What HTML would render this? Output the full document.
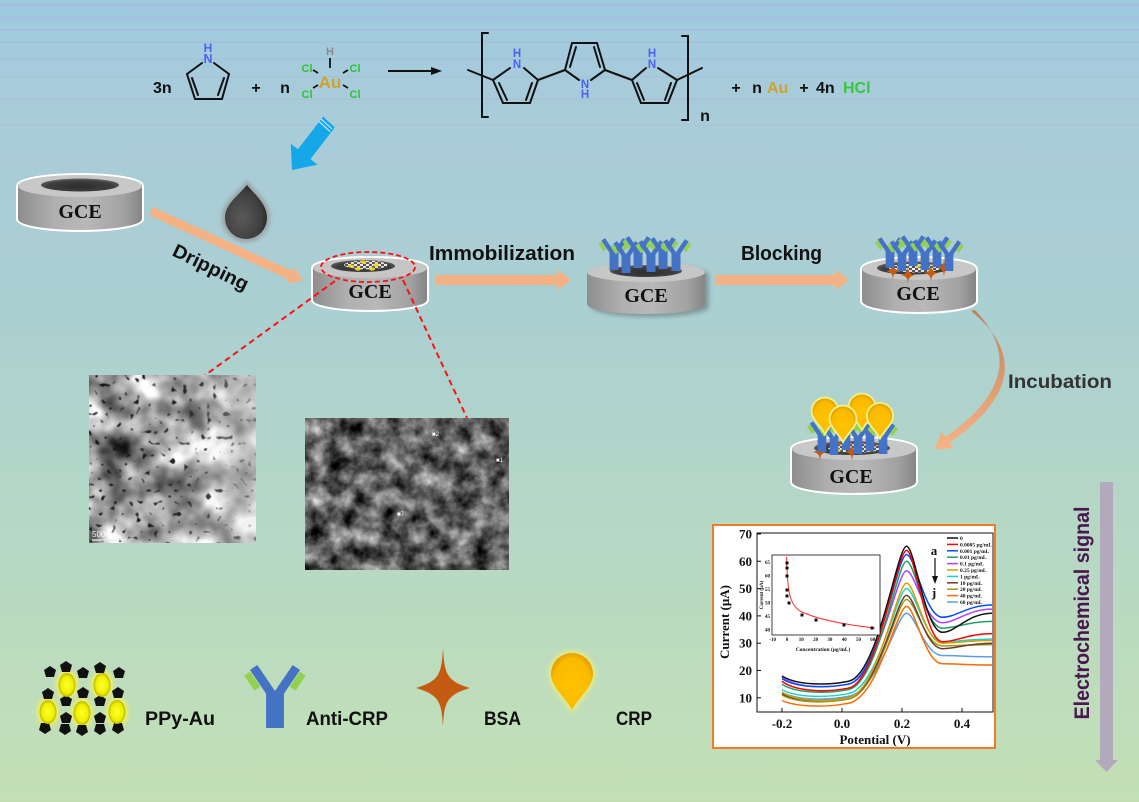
<!DOCTYPE html>
<html><head><meta charset="utf-8"><style>html,body{margin:0;padding:0;background:#b0d2cc}svg{display:block}</style></head>
<body>
<svg width="1139" height="802" viewBox="0 0 1139 802" xmlns="http://www.w3.org/2000/svg" xmlns:xlink="http://www.w3.org/1999/xlink" font-family="'Liberation Sans', sans-serif">
<defs>
<linearGradient id="bg" x1="0" y1="0" x2="0" y2="1">
<stop offset="0" stop-color="#9ecbe0"/><stop offset="0.12" stop-color="#a8cbda"/><stop offset="0.4" stop-color="#abd0d1"/><stop offset="0.7" stop-color="#b7d9c3"/><stop offset="1" stop-color="#c3e0b5"/>
</linearGradient>
<linearGradient id="side" x1="0" y1="0" x2="1" y2="0">
<stop offset="0" stop-color="#8e8e8e"/><stop offset="0.3" stop-color="#b0b0b0"/><stop offset="0.55" stop-color="#b8b8b8"/><stop offset="0.85" stop-color="#a2a2a2"/><stop offset="1" stop-color="#858585"/>
</linearGradient>
<radialGradient id="hole" cx="0.5" cy="0.6" r="0.6">
<stop offset="0" stop-color="#2e2e2e"/><stop offset="0.7" stop-color="#3e3e3e"/><stop offset="1" stop-color="#6a6a6a"/>
</radialGradient>
<radialGradient id="dropg" cx="0.4" cy="0.6" r="0.6">
<stop offset="0" stop-color="#5a5a5a"/><stop offset="0.8" stop-color="#3e3e3e"/><stop offset="1" stop-color="#2a2a2a"/>
</radialGradient>
<radialGradient id="crpg" cx="0.5" cy="0.55" r="0.6">
<stop offset="0" stop-color="#ffc400"/><stop offset="0.75" stop-color="#fbb900"/><stop offset="1" stop-color="#d89400"/>
</radialGradient>
<radialGradient id="aug" cx="0.5" cy="0.5" r="0.5">
<stop offset="0" stop-color="#ffff30"/><stop offset="0.7" stop-color="#f0f000"/><stop offset="1" stop-color="#b8b800"/>
</radialGradient>
<linearGradient id="incg" x1="0" y1="0" x2="0" y2="1">
<stop offset="0" stop-color="#c2805a"/><stop offset="1" stop-color="#f5b386"/>
</linearGradient>
<linearGradient id="temlight" x1="0" y1="0" x2="1" y2="0">
<stop offset="0" stop-color="#e2e2e2" stop-opacity="0"/><stop offset="0.6" stop-color="#e2e2e2" stop-opacity="0.1"/><stop offset="1" stop-color="#e4e4e4" stop-opacity="0.5"/>
</linearGradient>
<filter id="blur2" x="-30%" y="-30%" width="160%" height="160%"><feGaussianBlur stdDeviation="2"/></filter>
<filter id="blur1" x="-30%" y="-30%" width="160%" height="160%"><feGaussianBlur stdDeviation="1.2"/></filter>
<filter id="fSem" x="0" y="0" width="100%" height="100%" color-interpolation-filters="sRGB">
<feTurbulence type="fractalNoise" baseFrequency="0.055" numOctaves="4" seed="5"/>
<feColorMatrix type="matrix" values="1.15 0 0 0 -0.2  1.15 0 0 0 -0.2  1.15 0 0 0 -0.2  0 0 0 0 1"/>
</filter>
<filter id="fTem" x="0" y="0" width="100%" height="100%" color-interpolation-filters="sRGB">
<feTurbulence type="fractalNoise" baseFrequency="0.03" numOctaves="3" seed="7" result="n1"/>
<feColorMatrix in="n1" type="matrix" values="-1.5 0 0 0 1.38  -1.5 0 0 0 1.38  -1.5 0 0 0 1.38  0 0 0 0 1" result="base"/>
<feTurbulence type="fractalNoise" baseFrequency="0.17" numOctaves="1" seed="11" result="n2"/>
<feColorMatrix in="n2" type="matrix" values="0 0 0 0 0.08  0 0 0 0 0.08  0 0 0 0 0.08  9 0 0 0 -5.7" result="dots"/>
<feMerge><feMergeNode in="base"/><feMergeNode in="dots"/></feMerge>
</filter>
<g id="ab">
<polyline points="-2.5,0 -2.5,-20 -12,-34" fill="none" stroke="#4472c4" stroke-width="5"/>
<polyline points="2.5,0 2.5,-20 12,-34" fill="none" stroke="#4472c4" stroke-width="5"/>
<line x1="-9.9" y1="-22.1" x2="-15.6" y2="-30.5" stroke="#92d050" stroke-width="4"/>
<line x1="9.9" y1="-22.1" x2="15.6" y2="-30.5" stroke="#92d050" stroke-width="4"/>
</g>
<path id="star" d="M0,-40 C1.5,-15 3,-7 27,0 C3,7 1.5,15 0,38 C-1.5,15 -3,7 -27,0 C-3,-7 -1.5,-15 0,-40 Z" fill="#c55a11"/>
<g id="crp">
<path d="M-10,0 A10,10 0 1 1 10,0 C10,6 4,10 0,17 C-4,10 -10,6 -10,0 Z" fill="#eef08a" stroke="#eef08a" stroke-width="3"/>
<path d="M-10,0 A10,10 0 1 1 10,0 C10,6 4,10 0,17 C-4,10 -10,6 -10,0 Z" fill="url(#crpg)"/>
</g>
<polygon id="pent" points="0,-6 6,-2 4,5 -4,5 -6,-2" fill="#111"/>
<pattern id="chk" width="6" height="4" patternUnits="userSpaceOnUse"><rect width="6" height="4" fill="#555"/><rect width="3" height="2" fill="#eee"/><rect x="3" y="2" width="3" height="2" fill="#ddd"/></pattern>
</defs>

<!-- background -->
<rect width="1139" height="802" fill="url(#bg)"/>
<g opacity="0.45">
<rect y="4" width="1139" height="3" fill="#a8b2ea"/>
<rect y="16" width="1139" height="3" fill="#a8b8e4"/>
<rect y="29" width="1139" height="2" fill="#a8b8e0"/>
<rect y="41" width="1139" height="2" fill="#aab8dc"/>
<rect y="58" width="1139" height="2" fill="#a9bad8"/>
<rect y="76" width="1139" height="2" fill="#a9bcd6"/>
<rect y="98" width="1139" height="2" fill="#a9bed6"/>
<rect y="124" width="1139" height="2" fill="#abc2d4"/>
</g>

<!-- ===== Chemistry equation ===== -->
<g font-weight="bold">
<text x="153" y="93" font-size="16" fill="#111">3n</text>
<g stroke="#111" stroke-width="2" fill="none" stroke-linecap="round">
<line x1="202" y1="63" x2="187" y2="74"/><line x1="187" y1="74" x2="195" y2="99"/><line x1="195" y1="99" x2="222" y2="99"/><line x1="222" y1="99" x2="229" y2="74"/><line x1="229" y1="74" x2="214" y2="63"/>
<line x1="192" y1="78" x2="198" y2="95"/><line x1="224" y1="78" x2="218" y2="95"/>
</g>
<text x="208" y="52" font-size="12" fill="#4a62f0" text-anchor="middle">H</text>
<text x="208" y="63" font-size="12.5" fill="#4a62f0" text-anchor="middle">N</text>
<text x="256" y="93" font-size="16" fill="#111" text-anchor="middle">+</text>
<text x="285" y="93" font-size="16" fill="#111" text-anchor="middle">n</text>
<text x="330" y="55" font-size="11" fill="#8a8a8a" text-anchor="middle">H</text>
<g stroke="#111" stroke-width="1.8">
<line x1="330" y1="58" x2="330" y2="68"/><line x1="313" y1="70" x2="318" y2="73"/><line x1="343" y1="73" x2="348" y2="70"/><line x1="313" y1="88" x2="318" y2="85"/><line x1="343" y1="85" x2="348" y2="88"/>
</g>
<text x="307" y="72" font-size="11" fill="#2ec42e" text-anchor="middle">Cl</text>
<text x="355" y="72" font-size="11" fill="#2ec42e" text-anchor="middle">Cl</text>
<text x="307" y="98" font-size="11" fill="#2ec42e" text-anchor="middle">Cl</text>
<text x="355" y="98" font-size="11" fill="#2ec42e" text-anchor="middle">Cl</text>
<text x="330" y="88" font-size="17" fill="#d2a226" text-anchor="middle">Au</text>
<line x1="388" y1="71" x2="434" y2="71" stroke="#111" stroke-width="2"/>
<polygon points="431,67 442,71 431,75" fill="#111"/>
<!-- polymer -->
<g stroke="#111" stroke-width="2" fill="none" stroke-linecap="round">
<polyline points="488,33 482,33 482,117 488,117"/>
<polyline points="682,36 688,36 688,120 682,120"/>
<line x1="468" y1="70" x2="493" y2="80"/>
<line x1="510" y1="68" x2="493" y2="80"/><line x1="493" y1="80" x2="503" y2="103"/><line x1="503" y1="103" x2="530" y2="103"/><line x1="530" y1="103" x2="538" y2="80"/><line x1="538" y1="80" x2="524" y2="68"/>
<line x1="499" y1="83" x2="507" y2="100"/><line x1="532" y1="83" x2="526" y2="100"/>
<line x1="538" y1="80" x2="565" y2="70"/>
<line x1="565" y1="70" x2="572" y2="43"/><line x1="572" y1="43" x2="597" y2="43"/><line x1="597" y1="43" x2="605" y2="70"/><line x1="565" y1="70" x2="579" y2="80"/><line x1="605" y1="70" x2="591" y2="80"/>
<line x1="570" y1="67" x2="576" y2="47"/><line x1="594" y1="47" x2="600" y2="67"/>
<line x1="605" y1="70" x2="632" y2="80"/>
<line x1="632" y1="80" x2="646" y2="68"/><line x1="658" y1="68" x2="677" y2="80"/><line x1="677" y1="80" x2="668" y2="103"/><line x1="668" y1="103" x2="641" y2="103"/><line x1="641" y1="103" x2="632" y2="80"/>
<line x1="671" y1="83" x2="665" y2="100"/><line x1="637" y1="83" x2="644" y2="100"/>
<line x1="677" y1="80" x2="702" y2="68"/>
</g>
<g font-size="11.5" fill="#4a62f0" text-anchor="middle">
<text x="517" y="57">H</text><text x="517" y="68">N</text>
<text x="585" y="88">N</text><text x="585" y="98">H</text>
<text x="652" y="57">H</text><text x="652" y="68">N</text>
</g>
<text x="705" y="121" font-size="16" fill="#111" text-anchor="middle">n</text>
<text x="736" y="93" font-size="16" fill="#111" text-anchor="middle">+</text>
<text x="757" y="93" font-size="16" fill="#111" text-anchor="middle">n</text>
<text x="767" y="93" font-size="16" fill="#d2a226">Au</text>
<text x="804" y="93" font-size="16" fill="#111" text-anchor="middle">+</text>
<text x="816" y="93" font-size="16" fill="#111">4n</text>
<text x="843" y="93" font-size="16" fill="#36c936">HCl</text>
</g>

<!-- blue arrow -->
<polygon points="323.2,116.6 297.9,149.3 290.8,143.8 292,170 317.6,164.6 310.5,159.1 334.8,127.4" fill="#14a8e8"/>
<line x1="321" y1="119" x2="332" y2="129" stroke="#d8f0ff" stroke-width="1"/>
<line x1="319" y1="121.5" x2="330" y2="131.5" stroke="#d8f0ff" stroke-width="1"/>

<!-- ===== GCE1 ===== -->
<path d="M18,186 A62,11 0 0 1 142,186 L142,219 A62,11 0 0 1 18,219 Z" fill="#fff" stroke="#fff" stroke-width="4"/>
<path d="M18,186 A62,11 0 0 1 142,186 L142,219 A62,11 0 0 1 18,219 Z" fill="url(#side)"/>
<ellipse cx="80" cy="186" rx="62" ry="11" fill="#c8c8c8"/>
<ellipse cx="80" cy="185" rx="39" ry="6.5" fill="url(#hole)"/>
<text x="80" y="218" font-family="'Liberation Serif', serif" font-weight="bold" font-size="20" text-anchor="middle" fill="#111">GCE</text>

<!-- drop -->
<path d="M225,218 A21,21 0 0 0 267,218 C267,204 256,196 247,185 C238,196 225,204 225,218 Z" fill="#9aa2a4" stroke="#9aa2a4" stroke-width="6" filter="url(#blur2)"/>
<path d="M225,218 A21,21 0 0 0 267,218 C267,204 256,196 247,185 C238,196 225,204 225,218 Z" fill="url(#dropg)"/>

<!-- dripping arrow -->
<line x1="151" y1="211" x2="291" y2="275.5" stroke="#f4b183" stroke-width="9"/>
<polygon points="286.5,283.3 303,281 294.1,266.9" fill="#f4b183"/>
<text x="208" y="273" transform="rotate(26 208 273)" font-size="19" font-weight="bold" text-anchor="middle" fill="#111" textLength="82" lengthAdjust="spacingAndGlyphs">Dripping</text>

<!-- ===== GCE2 ===== -->
<path d="M313,268 A57,10 0 0 1 427,268 L427,300 A57,10 0 0 1 313,300 Z" fill="#fff" stroke="#fff" stroke-width="4"/>
<path d="M313,268 A57,10 0 0 1 427,268 L427,300 A57,10 0 0 1 313,300 Z" fill="url(#side)"/>
<ellipse cx="370" cy="268" rx="57" ry="10" fill="#c6c6c6"/>
<ellipse cx="363" cy="266" rx="32" ry="6" fill="url(#hole)"/>
<ellipse cx="366" cy="265" rx="22" ry="4.3" fill="url(#chk)"/>
<g fill="#f2d21a"><ellipse cx="351" cy="266" rx="3" ry="1.6"/><ellipse cx="363" cy="262" rx="3" ry="1.6"/><ellipse cx="376" cy="265" rx="3" ry="1.6"/><ellipse cx="358" cy="269" rx="3" ry="1.6"/><ellipse cx="372" cy="269" rx="3" ry="1.6"/></g>
<text x="370" y="298" font-family="'Liberation Serif', serif" font-weight="bold" font-size="20" text-anchor="middle" fill="#111">GCE</text>
<ellipse cx="368" cy="267" rx="47" ry="15" fill="none" stroke="#ff1010" stroke-width="1.8" stroke-dasharray="5,3"/>

<!-- red dashed connectors -->
<line x1="335" y1="281" x2="204" y2="376" stroke="#ff1010" stroke-width="2" stroke-dasharray="6,4"/>
<line x1="403" y1="280" x2="467" y2="418" stroke="#ff1010" stroke-width="2" stroke-dasharray="6,4"/>

<!-- Immobilization -->
<text x="429" y="260" font-size="20" font-weight="bold" fill="#111" textLength="146" lengthAdjust="spacingAndGlyphs">Immobilization</text>
<rect x="436" y="275" width="123" height="10" fill="#f4b183"/>
<polygon points="558,270 571,280 558,290" fill="#f4b183"/>

<!-- ===== GCE3 ===== -->
<path d="M587,272 A59,10 0 0 1 705,272 L705,304 A59,10 0 0 1 587,304 Z" fill="#5a6c70" opacity="0.55" transform="translate(4,3)" filter="url(#blur2)"/>
<path d="M587,272 A59,10 0 0 1 705,272 L705,304 A59,10 0 0 1 587,304 Z" fill="url(#side)"/>
<ellipse cx="646" cy="272" rx="59" ry="10" fill="#c6c6c6"/>
<ellipse cx="646" cy="271" rx="36" ry="6" fill="url(#hole)"/>
<use href="#ab" transform="translate(614,270) scale(.9)"/>
<use href="#ab" transform="translate(626,273) scale(.9)"/>
<use href="#ab" transform="translate(638,268) scale(.9)"/>
<use href="#ab" transform="translate(651,272) scale(.9)"/>
<use href="#ab" transform="translate(663,269) scale(.9)"/>
<use href="#ab" transform="translate(676,271) scale(.9)"/>
<text x="646" y="302" font-family="'Liberation Serif', serif" font-weight="bold" font-size="20" text-anchor="middle" fill="#111">GCE</text>

<!-- Blocking -->
<text x="741" y="260" font-size="20" font-weight="bold" fill="#111" textLength="81" lengthAdjust="spacingAndGlyphs">Blocking</text>
<rect x="715" y="275" width="122" height="10" fill="#f4b183"/>
<polygon points="836,270 849,280 836,290" fill="#f4b183"/>

<!-- ===== GCE4 ===== -->
<path d="M862,269 A57,11 0 0 1 976,269 L976,301 A57,11 0 0 1 862,301 Z" fill="#fff" stroke="#fff" stroke-width="4"/>
<path d="M862,269 A57,11 0 0 1 976,269 L976,301 A57,11 0 0 1 862,301 Z" fill="url(#side)"/>
<ellipse cx="919" cy="269" rx="57" ry="11" fill="#c8c8c8"/>
<ellipse cx="913" cy="268" rx="36" ry="6.5" fill="url(#hole)"/>
<ellipse cx="915" cy="268" rx="26" ry="4.5" fill="url(#chk)"/>
<g fill="#f2d21a"><ellipse cx="898" cy="270" rx="3" ry="1.5"/><ellipse cx="918" cy="266" rx="3" ry="1.5"/><ellipse cx="930" cy="270" rx="3" ry="1.5"/></g>
<use href="#star" transform="translate(893,271) scale(.25)"/>
<use href="#star" transform="translate(908,275) scale(.25)"/>
<use href="#star" transform="translate(931,273) scale(.25)"/>
<use href="#star" transform="translate(944,268) scale(.25)"/>
<use href="#ab" transform="translate(890,268) scale(.87)"/>
<use href="#ab" transform="translate(902,271) scale(.87)"/>
<use href="#ab" transform="translate(913,266) scale(.87)"/>
<use href="#ab" transform="translate(925,270) scale(.87)"/>
<use href="#ab" transform="translate(937,267) scale(.87)"/>
<use href="#ab" transform="translate(949,271) scale(.87)"/>
<text x="918" y="300" font-family="'Liberation Serif', serif" font-weight="bold" font-size="20" text-anchor="middle" fill="#111">GCE</text>

<!-- Incubation arrow -->
<path d="M971,311 Q1048,374 949.5,442.8 L953.4,448.1 L934.5,449.4 L941.6,431.9 L945.5,437.2 Q1036,374 975,310 Z" fill="url(#incg)"/>
<text x="1008" y="388" font-size="19" font-weight="bold" fill="#333" textLength="104" lengthAdjust="spacingAndGlyphs">Incubation</text>

<!-- ===== GCE5 ===== -->
<path d="M792,449 A62,11 0 0 1 916,449 L916,482 A62,11 0 0 1 792,482 Z" fill="#fff" stroke="#fff" stroke-width="4"/>
<path d="M792,449 A62,11 0 0 1 916,449 L916,482 A62,11 0 0 1 792,482 Z" fill="url(#side)"/>
<ellipse cx="854" cy="449" rx="62" ry="11" fill="#c8c8c8"/>
<ellipse cx="852" cy="448" rx="38" ry="7" fill="url(#hole)"/>
<ellipse cx="855" cy="448" rx="27" ry="4.8" fill="url(#chk)"/>
<g fill="#f2d21a"><ellipse cx="838" cy="450" rx="3" ry="1.5"/><ellipse cx="857" cy="446" rx="3" ry="1.5"/><ellipse cx="870" cy="450" rx="3" ry="1.5"/></g>
<use href="#star" transform="translate(820,452) scale(.25)"/>
<use href="#star" transform="translate(836,444) scale(.25)"/>
<use href="#star" transform="translate(852,452) scale(.25)"/>
<use href="#star" transform="translate(870,446) scale(.25)"/>
<use href="#ab" transform="translate(822,452) scale(.87)"/>
<use href="#ab" transform="translate(834,455) scale(.87)"/>
<use href="#ab" transform="translate(846,450) scale(.87)"/>
<use href="#ab" transform="translate(858,454) scale(.87)"/>
<use href="#ab" transform="translate(870,451) scale(.87)"/>
<use href="#ab" transform="translate(883,454) scale(.87)"/>
<use href="#crp" transform="translate(862,407) scale(1.25)"/>
<use href="#crp" transform="translate(825,411) scale(1.25)"/>
<use href="#crp" transform="translate(880,416) scale(1.22)"/>
<use href="#crp" transform="translate(843,419) scale(1.25)"/>
<text x="851" y="483" font-family="'Liberation Serif', serif" font-weight="bold" font-size="20" text-anchor="middle" fill="#111">GCE</text>

<!-- TEM image -->
<rect x="89" y="375" width="167" height="168" fill="#d0d0d0" filter="url(#fTem)"/>
<rect x="89" y="375" width="167" height="168" fill="url(#temlight)"/>
<line x1="92" y1="540" x2="126" y2="540" stroke="#eee" stroke-width="1.2"/>
<text x="92" y="537" font-size="8" fill="#f4f4f4">500 nm</text>

<!-- SEM image -->
<rect x="305" y="418" width="204" height="152" fill="#444" filter="url(#fSem)"/>
<g font-size="6" fill="#fff"><text x="432" y="436">■2</text><text x="397" y="516">■7</text><text x="496" y="462">■1</text></g>

<!-- ===== Chart ===== -->
<rect x="713" y="525" width="282" height="223" fill="#fff" stroke="#f07a2a" stroke-width="2"/>
<g stroke="#111" stroke-width="1" fill="none">
<rect x="757" y="533" width="236" height="179"/>
<path d="M757,534h4M757,561.3h4M757,588.6h4M757,615.9h4M757,643.2h4M757,670.5h4M757,697.8h4M782,712v-4M842,712v-4M902,712v-4M962,712v-4"/>
</g>
<g font-family="'Liberation Serif', serif" font-weight="bold" font-size="13" fill="#111">
<g text-anchor="end"><text x="752" y="538.5">70</text><text x="752" y="565.8">60</text><text x="752" y="593.1">50</text><text x="752" y="620.4">40</text><text x="752" y="647.7">30</text><text x="752" y="675">20</text><text x="752" y="702.3">10</text></g>
<g text-anchor="middle"><text x="782" y="728">-0.2</text><text x="842" y="728">0.0</text><text x="902" y="728">0.2</text><text x="962" y="728">0.4</text></g>
<text x="875" y="744" text-anchor="middle">Potential (V)</text>
<text x="729" y="622" transform="rotate(-90 729 622)" text-anchor="middle">Current (μA)</text>
</g>
<g fill="none" stroke-width="1.5">
<path stroke="#5aa0e0" d="M782,692.3 C797,700.5 827,700.5 848,696.4 C878,692.3 897,613.2 906.5,613.2 C915,613.2 925,655.5 942.5,655.5 C956,655.5 968,656.9 992,656.9"/>
<path stroke="#ff6a00" d="M782,700.5 C797,707.4 827,707.4 848,703.3 C878,699.2 897,606.4 906.5,606.4 C915,606.4 925,663.7 942.5,663.7 C956,663.7 968,665 992,665"/>
<path stroke="#9a9a20" d="M782,695.1 C797,703.3 827,703.3 848,699.2 C878,695.1 897,599.5 906.5,599.5 C915,599.5 925,645.9 942.5,645.9 C956,645.9 968,644.6 992,644.6"/>
<path stroke="#6b3a2a" d="M782,693.7 C797,701.9 827,701.9 848,697.8 C878,693.7 897,595.4 906.5,595.4 C915,595.4 925,648.7 942.5,648.7 C956,648.7 968,643.2 992,643.2"/>
<path stroke="#20d0d0" d="M782,689.6 C797,697.8 827,697.8 848,693.7 C878,689.6 897,588.6 906.5,588.6 C915,588.6 925,641.8 942.5,641.8 C956,641.8 968,639.1 992,639.1"/>
<path stroke="#d4a000" d="M782,692.3 C797,701.9 827,701.9 848,697.8 C878,693.7 897,583.1 906.5,583.1 C915,583.1 925,643.2 942.5,643.2 C956,643.2 968,640.5 992,640.5"/>
<path stroke="#b040ff" d="M782,677.3 C797,688.2 827,688.2 848,684.2 C878,680.1 897,570.8 906.5,570.8 C915,570.8 925,622.7 942.5,622.7 C956,622.7 968,609.1 992,609.1"/>
<path stroke="#20a060" d="M782,684.2 C797,693.7 827,693.7 848,689.6 C878,685.5 897,561.3 906.5,561.3 C915,561.3 925,628.2 942.5,628.2 C956,628.2 968,621.4 992,621.4"/>
<path stroke="#0050ff" d="M782,678.7 C797,688.2 827,688.2 848,684.2 C878,680.1 897,554.5 906.5,554.5 C915,554.5 925,617.3 942.5,617.3 C956,617.3 968,605 992,605"/>
<path stroke="#ff0000" d="M782,681.4 C797,692.3 827,692.3 848,688.2 C878,684.2 897,550.4 906.5,550.4 C915,550.4 925,641.8 942.5,641.8 C956,641.8 968,633.6 992,633.6"/>
<path stroke="#111" d="M782,676 C797,685.5 827,685.5 848,681.4 C878,677.3 897,546.3 906.5,546.3 C915,546.3 925,632.3 942.5,632.3 C956,632.3 968,613.2 992,613.2"/>
</g>
<!-- chart legend -->
<g stroke-width="1.5">
<line x1="947" y1="538" x2="958" y2="538" stroke="#111"/>
<line x1="947" y1="544.4" x2="958" y2="544.4" stroke="#ff0000"/>
<line x1="947" y1="550.8" x2="958" y2="550.8" stroke="#0050ff"/>
<line x1="947" y1="557.2" x2="958" y2="557.2" stroke="#20a060"/>
<line x1="947" y1="563.6" x2="958" y2="563.6" stroke="#b040ff"/>
<line x1="947" y1="570" x2="958" y2="570" stroke="#d4a000"/>
<line x1="947" y1="576.4" x2="958" y2="576.4" stroke="#20d0d0"/>
<line x1="947" y1="582.8" x2="958" y2="582.8" stroke="#6b3a2a"/>
<line x1="947" y1="589.2" x2="958" y2="589.2" stroke="#9a9a20"/>
<line x1="947" y1="595.6" x2="958" y2="595.6" stroke="#ff6a00"/>
<line x1="947" y1="602" x2="958" y2="602" stroke="#5aa0e0"/>
</g>
<g font-family="'Liberation Serif', serif" font-weight="bold" font-size="5.5" fill="#111">
<text x="960" y="540">0</text><text x="960" y="546.4">0.0005 pg/mL</text><text x="960" y="552.8">0.001 pg/mL</text><text x="960" y="559.2">0.01 pg/mL</text><text x="960" y="565.6">0.1 pg/mL</text><text x="960" y="572">0.25 pg/mL</text><text x="960" y="578.4">1 pg/mL</text><text x="960" y="584.8">10 pg/mL</text><text x="960" y="591.2">20 pg/mL</text><text x="960" y="597.6">40 pg/mL</text><text x="960" y="604">60 pg/mL</text>
</g>
<g font-family="'Liberation Serif', serif" font-weight="bold" font-size="13" fill="#111" text-anchor="middle">
<text x="934" y="555">a</text><text x="934" y="597">j</text>
</g>
<line x1="935" y1="558" x2="935" y2="578" stroke="#111" stroke-width="1.2"/>
<polygon points="932,576 938,576 935,584" fill="#111"/>
<!-- inset -->
<rect x="772" y="555" width="108" height="80" fill="#fff" stroke="#111" stroke-width="0.8"/>
<g font-family="'Liberation Serif', serif" font-weight="bold" font-size="5" fill="#111">
<g text-anchor="end"><text x="770" y="564">65</text><text x="770" y="577.5">60</text><text x="770" y="591">55</text><text x="770" y="604.5">50</text><text x="770" y="618">45</text><text x="770" y="631.5">40</text></g>
<g text-anchor="middle"><text x="772.7" y="641">-10</text><text x="787" y="641">0</text><text x="801.3" y="641">10</text><text x="815.6" y="641">20</text><text x="829.9" y="641">30</text><text x="844.2" y="641">40</text><text x="858.5" y="641">50</text><text x="872.8" y="641">60</text></g>
<text x="823" y="651" text-anchor="middle" font-size="5.5">Concentration (μg/mL)</text>
<text x="763" y="595" transform="rotate(-90 763 595)" text-anchor="middle">Current (μA)</text>
</g>
<path d="M786.5,557 C787.5,590 789,604 800,611 C818,620 848,625 875,628" fill="none" stroke="#ff3030" stroke-width="1"/>
<g fill="#111">
<rect x="785.5" y="561.5" width="3" height="3"/><rect x="785.5" y="566.5" width="3" height="3"/><rect x="785.5" y="574.5" width="3" height="3"/><rect x="785.5" y="588.5" width="3" height="3"/><rect x="785.5" y="594.5" width="3" height="3"/><rect x="787.5" y="601.5" width="3" height="3"/><rect x="800.5" y="613.5" width="3" height="3"/><rect x="814.5" y="618.5" width="3" height="3"/><rect x="842.5" y="623.5" width="3" height="3"/><rect x="870.5" y="626.5" width="3" height="3"/>
</g>

<!-- Electrochemical signal arrow -->
<rect x="1100" y="482" width="13" height="279" fill="#b3a9bd"/>
<polygon points="1095,760 1118,760 1106.5,772" fill="#b3a9bd"/>
<text x="1089" y="613" transform="rotate(-90 1089 613)" font-size="21" font-weight="bold" fill="#4a1850" text-anchor="middle" textLength="213" lengthAdjust="spacingAndGlyphs">Electrochemical signal</text>

<!-- ===== Legend ===== -->
<!-- PPy-Au -->
<g>
<g filter="url(#blur2)" fill="#f6f060" opacity="0.9">
<ellipse cx="67" cy="685" rx="11" ry="15"/><ellipse cx="102" cy="685" rx="11" ry="15"/><ellipse cx="48" cy="712" rx="11" ry="15"/><ellipse cx="82" cy="713" rx="11" ry="15"/><ellipse cx="117" cy="712" rx="11" ry="15"/>
</g>
<use href="#pent" transform="translate(50,672)"/><use href="#pent" transform="translate(66,667)"/><use href="#pent" transform="translate(83,673)"/><use href="#pent" transform="translate(100,668)"/><use href="#pent" transform="translate(119,673)"/>
<use href="#pent" transform="translate(48,694)"/><use href="#pent" transform="translate(66,701)"/><use href="#pent" transform="translate(83,693)"/><use href="#pent" transform="translate(100,701)"/><use href="#pent" transform="translate(118,693)"/>
<use href="#pent" transform="translate(66,718)"/><use href="#pent" transform="translate(100,718)"/>
<use href="#pent" transform="translate(45,728) rotate(180)"/><use href="#pent" transform="translate(65,729) rotate(180)"/><use href="#pent" transform="translate(82,730) rotate(180)"/><use href="#pent" transform="translate(100,729) rotate(180)"/><use href="#pent" transform="translate(118,728) rotate(180)"/>
<g fill="url(#aug)">
<ellipse cx="67" cy="685" rx="8.5" ry="12"/><ellipse cx="102" cy="685" rx="8.5" ry="12"/><ellipse cx="48" cy="712" rx="8.5" ry="12"/><ellipse cx="82" cy="713" rx="8.5" ry="12"/><ellipse cx="117" cy="712" rx="8.5" ry="12"/>
</g>
</g>
<text x="145" y="725" font-size="19" font-weight="bold" fill="#111" textLength="70" lengthAdjust="spacingAndGlyphs">PPy-Au</text>
<!-- Anti-CRP -->
<use href="#ab" transform="translate(275,728) scale(1.78)"/>
<text x="306" y="725" font-size="19" font-weight="bold" fill="#111" textLength="82" lengthAdjust="spacingAndGlyphs">Anti-CRP</text>
<!-- BSA -->
<use href="#star" transform="translate(443,688)"/>
<text x="484" y="725" font-size="19" font-weight="bold" fill="#111" textLength="37" lengthAdjust="spacingAndGlyphs">BSA</text>
<!-- CRP -->
<g transform="translate(572,674) scale(2.1)"><path d="M-10,0 A10,10 0 1 1 10,0 C10,6 4,10 0,17 C-4,10 -10,6 -10,0 Z" fill="#e8ec80" stroke="#e8ec80" stroke-width="2.2" filter="url(#blur1)"/><path d="M-10,0 A10,10 0 1 1 10,0 C10,6 4,10 0,17 C-4,10 -10,6 -10,0 Z" fill="url(#crpg)"/></g>
<text x="616" y="725" font-size="19" font-weight="bold" fill="#111" textLength="36" lengthAdjust="spacingAndGlyphs">CRP</text>
</svg>
</body></html>
